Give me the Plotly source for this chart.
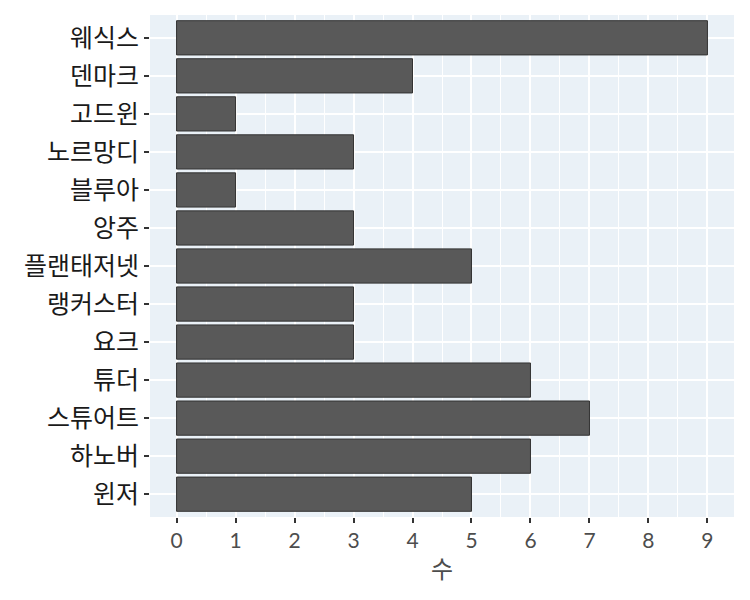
import plotly.graph_objects as go

categories = ["웨식스", "덴마크", "고드윈", "노르망디", "블루아", "앙주", "플랜태저넷",
              "랭커스터", "요크", "튜더", "스튜어트", "하노버", "윈저"]
counts = [9, 4, 1, 3, 1, 3, 5, 3, 3, 6, 7, 6, 5]
x_ticks = [0, 1, 2, 3, 4, 5, 6, 7, 8, 9]

fig = go.Figure(go.Bar(
    x=counts, y=categories, orientation="h",
    marker=dict(color="#595959", line=dict(color="#333333", width=1)),
    width=0.9,
))

font_fam = "Lato, Noto Sans CJK KR, sans-serif"
fig.update_layout(
    width=750, height=600,
    margin=dict(l=142, r=24, t=7, b=91),
    paper_bgcolor="white",
    plot_bgcolor="#EAF1F7",
    font=dict(family=font_fam),
    showlegend=False,
    bargap=0.1,
)
fig.update_xaxes(
    range=[-0.45, 9.45], tickvals=x_ticks, ticktext=[str(v) for v in x_ticks],
    showgrid=True, gridcolor="white", gridwidth=2,
    minor=dict(dtick=0.5, tick0=0, showgrid=True, gridcolor="white", gridwidth=1),
    zeroline=False, ticks="outside", ticklen=5, tickwidth=1.5, tickcolor="#333333",
    tickfont=dict(size=21, color="#4d4d4d", family=font_fam),
    title=dict(text="수", font=dict(size=24, color="#4d4d4d", family=font_fam), standoff=9),
)
fig.update_yaxes(
    categoryorder="array", categoryarray=categories[::-1],
    range=[-0.6, len(categories) - 0.4],
    showgrid=True, gridcolor="white", gridwidth=2,
    ticks="outside", ticklen=5, tickwidth=1.5, tickcolor="#333333",
    tickfont=dict(size=25, color="#1a1a1a", family=font_fam),
)
fig.write_html("out.html")
